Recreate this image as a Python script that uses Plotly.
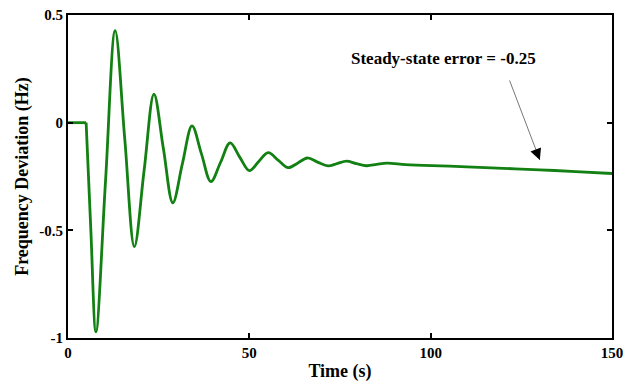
import plotly.graph_objects as go

# Pre-disturbance flat segment
t_flat = [0, 5.0]
f_flat = [0, 0]

# Oscillatory response (extrema and intermediate points)
t_osc = [5.0, 6.3, 7.7, 10.35, 13.0, 15.65, 18.3, 21.0, 23.7, 26.3, 28.9, 31.55,
         34.2, 36.8, 39.4, 42.05, 44.7, 47.35, 50.0, 52.6, 55.2, 58.0, 60.7, 63.3,
         66.0, 68.8, 71.7, 74.2, 76.8, 79.5, 82.3, 85.1, 87.9, 93.0, 98.0, 110.0,
         120.0, 130.0, 140.0, 150.0]
f_osc = [0.0, -0.5, -0.972, -0.27, 0.427, -0.075, -0.576, -0.22, 0.133, -0.12, -0.372, -0.19,
         -0.015, -0.145, -0.274, -0.185, -0.094, -0.16, -0.223, -0.18, -0.139, -0.175, -0.209, -0.188,
         -0.164, -0.183, -0.201, -0.19, -0.179, -0.19, -0.2, -0.194, -0.188, -0.195, -0.198, -0.205,
         -0.212, -0.219, -0.227, -0.236]

x_ticks = [0, 50, 100, 150]
x_tick_text = ["0", "50", "100", "150"]
y_ticks = [-1, -0.5, 0, 0.5]
y_tick_text = ["-1", "-0.5", "0", "0.5"]

label_text = "Steady-state error = -0.25"
label_pos = (103.6, 0.299)
arrow_tail = (121.6, 0.203)
arrow_tip = (130.1, -0.173)

green = "rgb(18,128,18)"
font = "Liberation Serif"

fig = go.Figure()
fig.add_trace(go.Scatter(x=t_flat, y=f_flat, mode="lines",
                         line=dict(color=green, width=2.8), showlegend=False))
fig.add_trace(go.Scatter(x=t_osc, y=f_osc, mode="lines",
                         line=dict(color=green, width=2.8, shape="spline", smoothing=1.0),
                         showlegend=False))

axis_common = dict(showline=True, linecolor="black", linewidth=2, mirror="ticks",
                   ticks="inside", ticklen=5, tickwidth=1.5, tickcolor="black",
                   showgrid=False, zeroline=False, automargin=False,
                   tickfont=dict(family=font, size=15, color="black", weight="bold"))

fig.update_xaxes(range=[0, 150], tickvals=x_ticks, ticktext=x_tick_text,
                 title=dict(text="<b>Time (s)</b>", font=dict(family=font, size=18, color="black"),
                            standoff=4),
                 **axis_common)
fig.update_yaxes(range=[-1, 0.5], tickvals=y_ticks, ticktext=y_tick_text,
                 title=dict(text="<b>Frequency Deviation (Hz)</b>",
                            font=dict(family=font, size=18, color="black"), standoff=6),
                 **axis_common)

# grey arrow shaft
fig.add_annotation(x=arrow_tip[0], y=arrow_tip[1], ax=arrow_tail[0], ay=arrow_tail[1],
                   xref="x", yref="y", axref="x", ayref="y", text="", showarrow=True,
                   arrowhead=0, arrowwidth=1, arrowcolor="rgb(120,120,120)")
# black arrowhead
fig.add_annotation(x=arrow_tip[0], y=arrow_tip[1], ax=-3.6, ay=-9.3,
                   xref="x", yref="y", text="", showarrow=True,
                   arrowhead=2, arrowsize=1.5, arrowwidth=1.5, arrowcolor="black")
fig.add_annotation(x=label_pos[0], y=label_pos[1], xref="x", yref="y",
                   text="<b>" + label_text + "</b>", showarrow=False,
                   font=dict(family=font, size=17, color="black"))

fig.update_layout(width=627, height=391, margin=dict(l=68, r=15, t=15, b=53, autoexpand=False),
                  plot_bgcolor="white", paper_bgcolor="white")

fig.write_html("out.html")
